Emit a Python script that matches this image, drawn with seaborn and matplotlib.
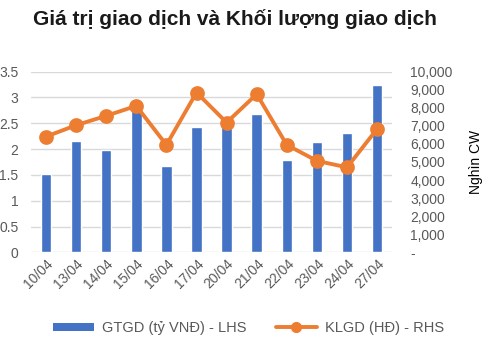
import numpy as np
import pandas as pd
import matplotlib
matplotlib.use("Agg")
import matplotlib.pyplot as plt
import seaborn as sns
from matplotlib.ticker import FuncFormatter, MultipleLocator
from matplotlib.lines import Line2D
from matplotlib.patches import Patch

# Trading data by session
dates = ["10/04", "13/04", "14/04", "15/04", "16/04", "17/04",
         "20/04", "21/04", "22/04", "23/04", "24/04", "27/04"]
gtgd = [1.51, 2.16, 1.99, 2.76, 1.68, 2.43, 2.63, 2.68, 1.78, 2.13, 2.31, 3.24]  # tỷ VNĐ
klgd = [6400, 7030, 7550, 8100, 5940, 8840, 7180, 8750, 5940, 5060, 4700, 6830]  # HĐ

df = pd.DataFrame({"date": dates, "gtgd": gtgd, "klgd": klgd})

BLUE = "#4472C4"
ORANGE = "#ED7D31"
GRID = "#D9D9D9"
TEXT = "#595959"

sns.set_theme(style="white")
plt.rcParams["font.family"] = ["Liberation Sans", "DejaVu Sans"]

fig = plt.figure(figsize=(4.83, 3.49), dpi=100)
ax = fig.add_axes([0.064, 0.277, 0.748, 0.518])

sns.barplot(data=df, x="date", y="gtgd", color=BLUE, width=0.35,
            saturation=1, ax=ax, zorder=2)
ax.set_ylim(0, 3.5)
ax.yaxis.set_major_locator(MultipleLocator(0.5))
ax.yaxis.set_major_formatter(FuncFormatter(lambda v, p: f"{v:g}"))
ax.grid(axis="y", color=GRID, linewidth=1, zorder=0)
ax.set_axisbelow(True)
ax.set_xlabel("")
ax.set_ylabel("")
for s in ax.spines.values():
    s.set_visible(False)
ax.tick_params(axis="y", length=0, labelsize=10, labelcolor=TEXT, pad=9)
ax.tick_params(axis="x", length=0, labelsize=10, labelcolor=TEXT, pad=3)
plt.setp(ax.get_xticklabels(), rotation=45, ha="right", rotation_mode="anchor")

ax2 = ax.twinx()
sns.pointplot(data=df, x="date", y="klgd", color=ORANGE, ax=ax2,
              markersize=8.5, linewidth=2.8, errorbar=None)
ax2.set_ylim(0, 10000)
ax2.yaxis.set_major_locator(MultipleLocator(1000))
ax2.yaxis.set_major_formatter(
    FuncFormatter(lambda v, p: "-" if abs(v) < 1e-9 else f"{v:,.0f}"))
ax2.set_xlim(-0.5, len(dates) - 0.5)
ax.set_xlim(-0.5, len(dates) - 0.5)
ax2.set_xlabel("")
ax2.set_ylabel("Nghìn CW", fontsize=10, color="black", labelpad=12)
for s in ax2.spines.values():
    s.set_visible(False)
ax2.tick_params(axis="y", length=0, labelsize=10, labelcolor=TEXT, pad=13)
ax2.grid(False)

fig.suptitle("Giá trị giao dịch và Khối lượng giao dịch", x=0.487, y=0.975,
             fontsize=15, fontweight="bold", color="#1a1a1a")

handles = [
    Patch(facecolor=BLUE, edgecolor="none"),
    Line2D([0], [0], color=ORANGE, linewidth=2.8, marker="o", markersize=7),
]
labels = ["GTGD (tỷ VNĐ) - LHS", "KLGD (HĐ) - RHS"]
leg = fig.legend(handles, labels, loc="center", bbox_to_anchor=(0.515, 0.06),
                 ncol=2, frameon=False, fontsize=10.5, handlelength=2.8,
                 handleheight=0.5, columnspacing=2.0, handletextpad=0.55)
for t in leg.get_texts():
    t.set_color(TEXT)

fig.savefig("out.png", dpi=100)
